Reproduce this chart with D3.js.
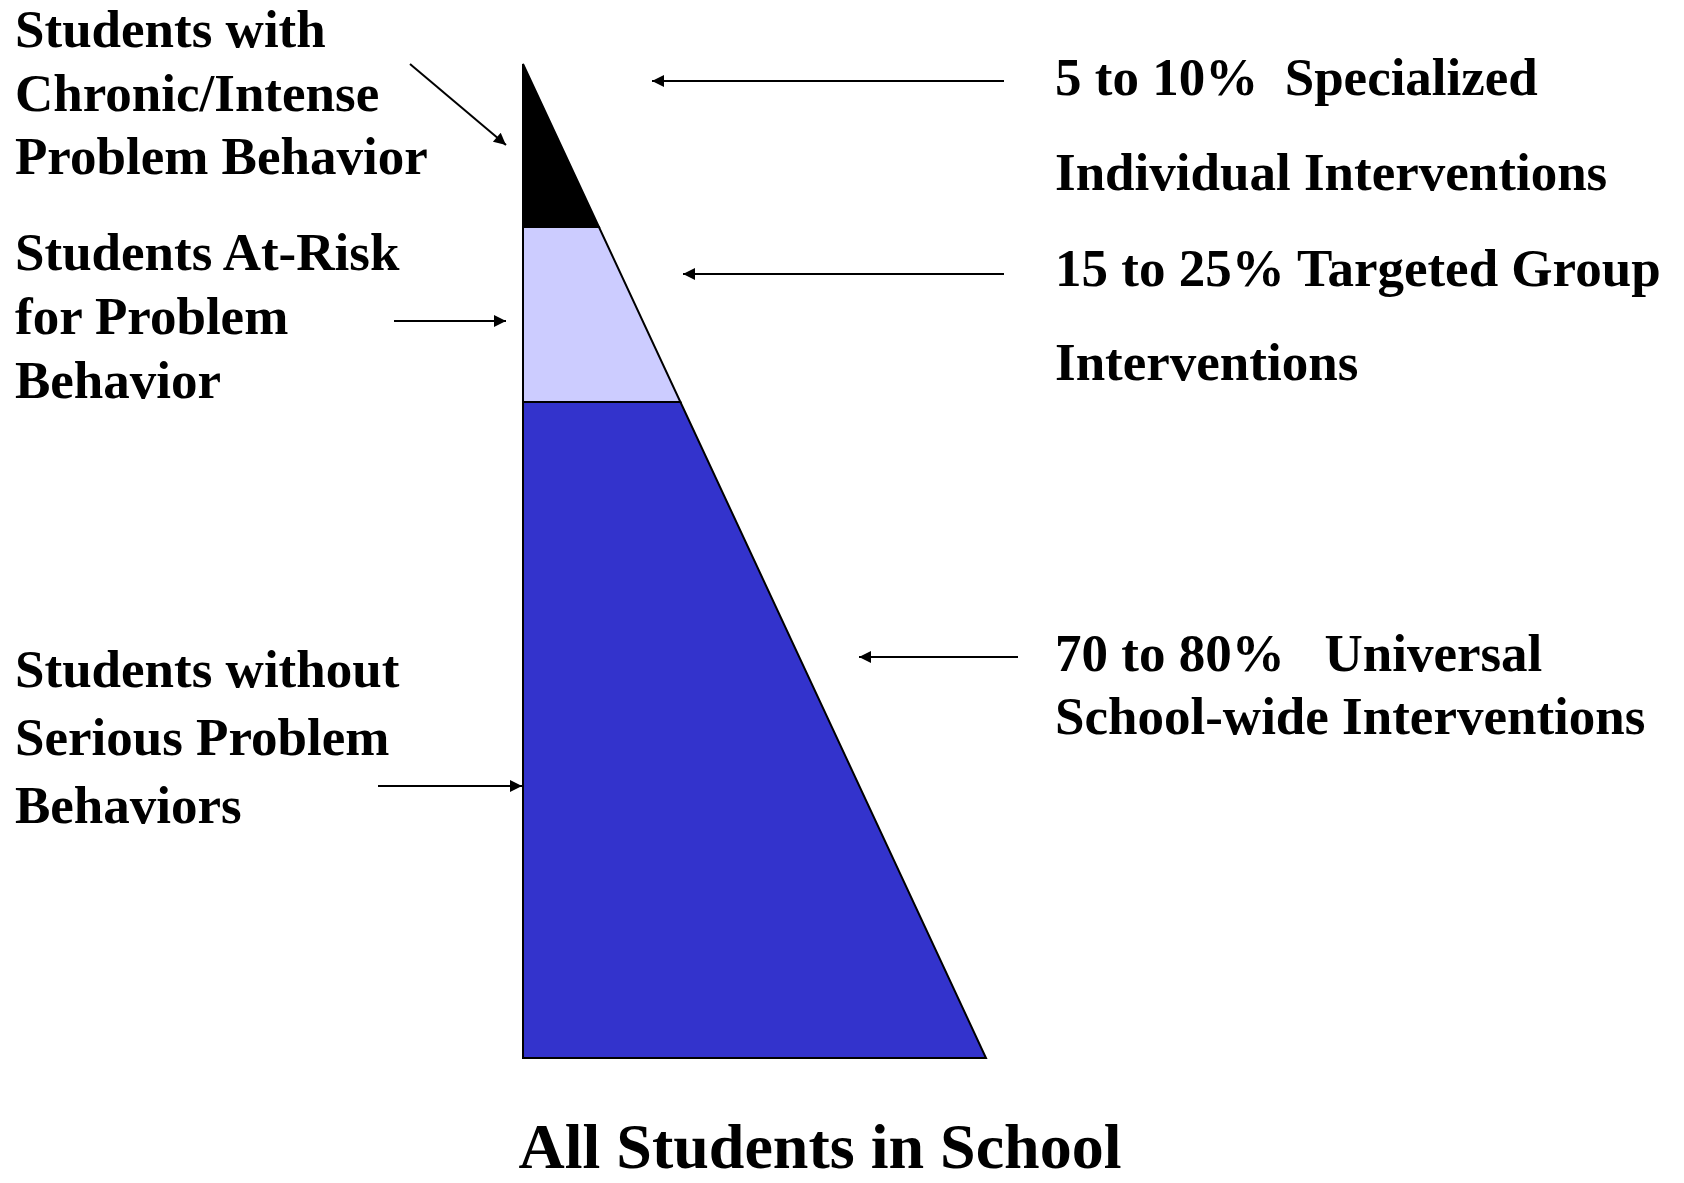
<!DOCTYPE html>
<html>
<head>
<meta charset="utf-8">
<script src="https://cdn.jsdelivr.net/npm/d3@7"></script>
<style>
  body { margin: 0; background: #fff; }
  svg text { font-family: "Liberation Serif", "Times New Roman", serif; font-weight: bold; fill: #000; }
</style>
</head>
<body>
<svg width="1684" height="1183"></svg>
<script>
// tiers from top of the triangle down, share of total height (%)
var tierNames = ["Chronic/Intense", "At-Risk", "Without Serious Problems"];
var tierShares = [16.4, 17.6, 66];
var tierColors = ["#000000", "#ccccff", "#3333cc"];

var leftLabels = [
  ["Students with", "Chronic/Intense", "Problem Behavior"],
  ["Students At-Risk", "for Problem", "Behavior"],
  ["Students without", "Serious Problem", "Behaviors"]
];
var rightLabels = [
  ["5 to 10%  Specialized", "Individual Interventions"],
  ["15 to 25% Targeted Group", "Interventions"],
  ["70 to 80%   Universal", "School-wide Interventions"]
];
var title = "All Students in School";

var svg = d3.select("svg");

var yScale = d3.scaleLinear().domain([0, 100]).range([64, 1058]);
var xScale = d3.scaleLinear().domain([0, 100]).range([523, 986]); // right edge by depth
var x0 = xScale(0);

// cumulative bounds
var bounds = [];
var acc = 0;
tierShares.forEach(function(s, i){
    bounds.push({name: tierNames[i], top: acc, bottom: acc + s, color: tierColors[i]});
    acc += s;
});

var defs = svg.append("defs");
defs.append("marker").attr("id", "head")
    .attr("viewBox", "0 0 10 10").attr("refX", 10).attr("refY", 5)
    .attr("markerWidth", 15).attr("markerHeight", 12)
    .attr("markerUnits", "userSpaceOnUse").attr("orient", "auto")
    .append("path").attr("d", "M0,0 L10,5 L0,10 Z").attr("fill", "#000");

svg.selectAll(".tier").data(bounds).enter().append("path")
    .attr("class", "tier")
    .attr("d", function(d){
        var pts = [[x0, yScale(d.top)], [xScale(d.top), yScale(d.top)],
                   [xScale(d.bottom), yScale(d.bottom)], [x0, yScale(d.bottom)]];
        return d3.line()(pts) + "Z";
    })
    .attr("fill", function(d){ return d.color; })
    .attr("stroke", "#000").attr("stroke-width", 2).attr("stroke-linejoin", "miter");

// left labels
var leftBase = [47, 270, 687];
var leftStep = [63.5, 64, 68];
leftLabels.forEach(function(lines, i){
    var t = svg.append("text").attr("font-size", "53px");
    lines.forEach(function(l, j){
        t.append("tspan").attr("x", 15).attr("y", leftBase[i] + j * leftStep[i]).text(l);
    });
});

// right labels
var rightBase = [95, 286, 671];
var rightStep = [95, 94, 63];
rightLabels.forEach(function(lines, i){
    var t = svg.append("text").attr("font-size", "53px").attr("xml:space", "preserve");
    lines.forEach(function(l, j){
        t.append("tspan").attr("x", 1055).attr("y", rightBase[i] + j * rightStep[i])
            .style("white-space", "pre").text(l);
    });
});

// arrows
var arrows = [
  [410, 64, 506, 145],
  [394, 321, 506, 321],
  [378, 786, 522, 786],
  [1004, 81, 652, 81],
  [1004, 274, 683, 274],
  [1018, 657, 859, 657]
];
svg.selectAll(".arrow").data(arrows).enter().append("line")
    .attr("class", "arrow")
    .attr("x1", function(d){ return d[0]; }).attr("y1", function(d){ return d[1]; })
    .attr("x2", function(d){ return d[2]; }).attr("y2", function(d){ return d[3]; })
    .attr("stroke", "#000").attr("stroke-width", 2)
    .attr("marker-end", "url(#head)");

svg.append("text").attr("x", 820).attr("y", 1168)
    .attr("text-anchor", "middle").attr("font-size", "64px").text(title);
</script>
</body>
</html>
